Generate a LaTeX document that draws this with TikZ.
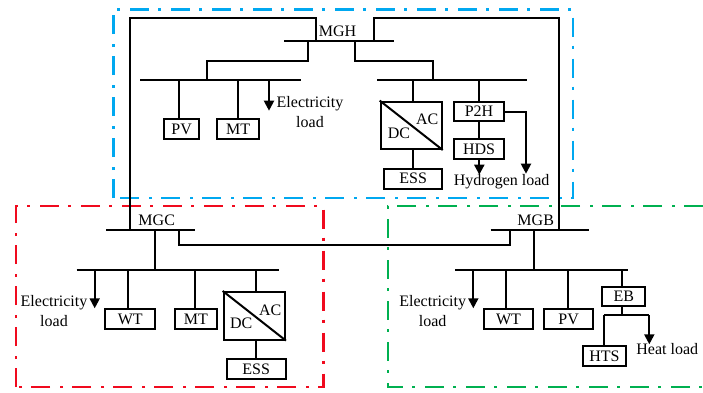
\documentclass[tikz,border=0pt]{standalone}
\usepackage{fontspec}
\setmainfont{Liberation Serif}
\usetikzlibrary{arrows.meta}

\definecolor{ccblue}{RGB}{0,168,240}
\definecolor{ccred}{RGB}{240,10,30}
\definecolor{ccgreen}{RGB}{0,176,80}

\tikzset{
  wire/.style={line width=2pt},
  loadwire/.style={line width=2pt, -{Triangle[length=10pt,width=10pt]}},
  region/.style={line width=2.4pt, dash pattern=on 19pt off 9pt on 3pt off 10pt},
  unitbox/.style={draw, line width=2pt, inner sep=0pt, font=\fontsize{16}{16}\selectfont},
  txt/.style={inner sep=0pt, align=center, font=\fontsize{16}{20}\selectfont}
}

\begin{document}
\begin{tikzpicture}[x=1pt,y=-1pt]
\useasboundingbox (0,0) rectangle (703,392);

% Regions
\draw[region, draw=ccblue] (113.5,198) -- (113.5,9.5) -- (573,9.5) -- (573,198) -- cycle;
\draw[region, draw=ccred] (16,387) -- (16,206) -- (323.5,206) -- (323.5,387) -- cycle;
\draw[region, draw=ccgreen] (703,206) -- (388,206) -- (388,387) -- (703,387);

% Coordinates of the buses
\coordinate (hmainl) at (284,41);
\coordinate (hmainr) at (394,41);
\coordinate (hleftl) at (140,80);
\coordinate (hleftr) at (300.7,80);
\coordinate (hrightl) at (377.3,80);
\coordinate (hrightr) at (526.7,80);
\coordinate (cmainl) at (106,230);
\coordinate (cmainr) at (195,230);
\coordinate (csubl) at (76.7,269.7);
\coordinate (csubr) at (279.3,269.7);
\coordinate (bmainl) at (490.7,230);
\coordinate (bmainr) at (589.3,230);
\coordinate (bsubl) at (455.3,269.7);
\coordinate (bsubr) at (628.3,269.7);

% Coordinates of the tie lines
\coordinate (hc0) at (315.7,41);
\coordinate (hc1) at (315.7,17.7);
\coordinate (hc2) at (130.3,17.7);
\coordinate (hc3) at (130.3,230);
\coordinate (hb0) at (374,41);
\coordinate (hb1) at (374,17.7);
\coordinate (hb2) at (559.3,17.7);
\coordinate (hb3) at (559.3,230);
\coordinate (cb0) at (179.3,230);
\coordinate (cb1) at (179.3,245.3);
\coordinate (cb2) at (510.3,245.3);
\coordinate (cb3) at (510.3,230);
\coordinate (hl0) at (308,41);
\coordinate (hl1) at (308,61);
\coordinate (hl2) at (206.7,61);
\coordinate (hl3) at (206.7,80);
\coordinate (hr0) at (354.7,41);
\coordinate (hr1) at (354.7,61);
\coordinate (hr2) at (432.7,61);
\coordinate (hr3) at (432.7,80);
\coordinate (cdrop0) at (155.3,230);
\coordinate (cdrop1) at (155.3,269.7);
\coordinate (bdrop0) at (533.7,230);
\coordinate (bdrop1) at (533.7,269.7);

% Coordinates of the taps
\coordinate (hpvtap) at (179.3,80);
\coordinate (hmttap) at (237.7,80);
\coordinate (hloadtap) at (269,80);
\coordinate (hloadend) at (269,110.7);
\coordinate (hconvtap) at (413,80);
\coordinate (p2htap) at (479.3,80);
\coordinate (hdsload) at (479.3,174.7);
\coordinate (p2hturn) at (526,112);
\coordinate (p2hend) at (526,173.7);
\coordinate (cloadtap) at (94.7,269.7);
\coordinate (cloadend) at (94.7,308.3);
\coordinate (cwttap) at (128,269.7);
\coordinate (cmttap) at (195.3,269.7);
\coordinate (cconvtap) at (256,269.7);
\coordinate (bloadtap) at (473.3,269.7);
\coordinate (bloadend) at (473.3,308.3);
\coordinate (bwttap) at (506.3,269.7);
\coordinate (bpvtap) at (567.7,269.7);
\coordinate (ebtap) at (622.3,269.7);
\coordinate (ebsplit) at (622.3,315);
\coordinate (htsturn) at (604.3,315);
\coordinate (heatturn) at (649.3,315);
\coordinate (heatend) at (649.3,344.3);

% Units of MGH
\node[unitbox, minimum width=34.7, minimum height=20] (hpv) at (181.6,129.4) {PV};
\node[unitbox, minimum width=42.3, minimum height=20] (hmt) at (238.2,129.4) {MT};
\node[unitbox, minimum width=61, minimum height=47.4] (hconv) at (411.2,125.3) {};
\node[unitbox, minimum width=58.3, minimum height=20] (hess) at (413.2,178.7) {ESS};
\node[unitbox, minimum width=49.4, minimum height=19.6] (p2h) at (479,111.5) {P2H};
\node[unitbox, minimum width=49.4, minimum height=19.7] (hds) at (479,149.2) {HDS};

% Units of MGC
\node[unitbox, minimum width=49.7, minimum height=20] (cwt) at (130.2,319) {WT};
\node[unitbox, minimum width=42.3, minimum height=20] (cmt) at (195.9,319) {MT};
\node[unitbox, minimum width=61.3, minimum height=47.7] (cconv) at (254.3,315.8) {};
\node[unitbox, minimum width=59, minimum height=20] (cess) at (256.2,369) {ESS};

% Units of MGB
\node[unitbox, minimum width=49.6, minimum height=20] (bwt) at (508.5,319) {WT};
\node[unitbox, minimum width=49.3, minimum height=20] (bpv) at (568.7,319) {PV};
\node[unitbox, minimum width=43, minimum height=19.6] (eb) at (623.8,296.5) {EB};
\node[unitbox, minimum width=43, minimum height=20] (hts) at (604.5,356) {HTS};

% Buses
\draw[wire] (hmainl) -- (hmainr);
\draw[wire] (hleftl) -- (hleftr);
\draw[wire] (hrightl) -- (hrightr);
\draw[wire] (cmainl) -- (cmainr);
\draw[wire] (csubl) -- (csubr);
\draw[wire] (bmainl) -- (bmainr);
\draw[wire] (bsubl) -- (bsubr);

% Tie lines
\draw[wire] (hc0) -- (hc1) -- (hc2) -- (hc3);
\draw[wire] (hb0) -- (hb1) -- (hb2) -- (hb3);
\draw[wire] (cb0) -- (cb1) -- (cb2) -- (cb3);
\draw[wire] (hl0) -- (hl1) -- (hl2) -- (hl3);
\draw[wire] (hr0) -- (hr1) -- (hr2) -- (hr3);
\draw[wire] (cdrop0) -- (cdrop1);
\draw[wire] (bdrop0) -- (bdrop1);

% Connectors of MGH
\draw[wire] (hpvtap) -- (hpvtap |- hpv.north);
\draw[wire] (hmttap) -- (hmttap |- hmt.north);
\draw[wire] (hconvtap) -- (hconvtap |- hconv.north);
\draw[wire] (hconvtap |- hconv.south) -- (hconvtap |- hess.north);
\draw[wire] (p2htap) -- (p2htap |- p2h.north);
\draw[wire] (p2htap |- p2h.south) -- (p2htap |- hds.north);
\draw[loadwire] (hloadtap) -- (hloadend);
\draw[loadwire] (p2htap |- hds.south) -- (hdsload);
\draw[loadwire] (p2h.east |- p2hturn) -- (p2hturn) -- (p2hend);

% Connectors of MGC
\draw[wire] (cwttap) -- (cwttap |- cwt.north);
\draw[wire] (cmttap) -- (cmttap |- cmt.north);
\draw[wire] (cconvtap) -- (cconvtap |- cconv.north);
\draw[wire] (cconvtap |- cconv.south) -- (cconvtap |- cess.north);
\draw[loadwire] (cloadtap) -- (cloadend);

% Connectors of MGB
\draw[wire] (bwttap) -- (bwttap |- bwt.north);
\draw[wire] (bpvtap) -- (bpvtap |- bpv.north);
\draw[wire] (ebtap) -- (ebtap |- eb.north);
\draw[wire] (ebtap |- eb.south) -- (ebsplit);
\draw[wire] (htsturn) -- (heatturn);
\draw[wire] (htsturn) -- (htsturn |- hts.north);
\draw[loadwire] (heatturn) -- (heatend);
\draw[loadwire] (bloadtap) -- (bloadend);

% Diagonals of the converters
\draw[wire] (hconv.north west) -- (hconv.south east);
\draw[wire] (cconv.north west) -- (cconv.south east);

% Labels
\node[txt] (hname) at (337.5,31) {MGH};
\node[txt] (cname) at (156.7,220) {MGC};
\node[txt] (bname) at (535.7,220) {MGB};
\node[txt] (hdc) at (399,133) {DC};
\node[txt] (hac) at (427.3,119.3) {AC};
\node[txt] (cdc) at (241.3,323.7) {DC};
\node[txt] (cac) at (270.3,310.3) {AC};
\node[txt] (hload) at (310,111.7) {Electricity\\load};
\node[txt] (cload) at (54,311.2) {Electricity\\load};
\node[txt] (bload) at (432.7,311.2) {Electricity\\load};
\node[txt] (h2load) at (501.7,182) {Hydrogen load};
\node[txt] (heatload) at (667.3,348.7) {Heat load};

\end{tikzpicture}
\end{document}
